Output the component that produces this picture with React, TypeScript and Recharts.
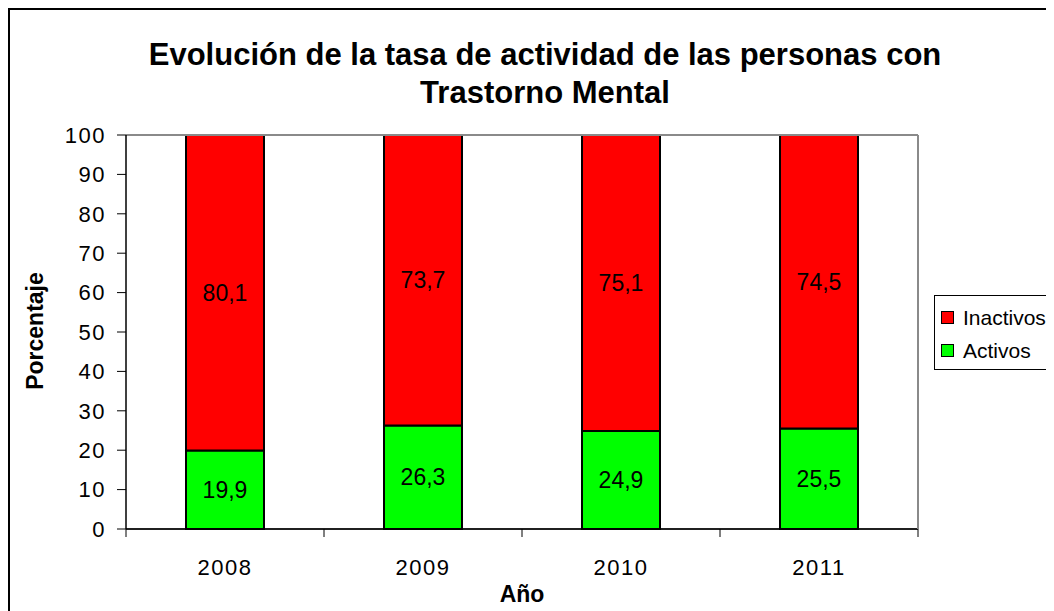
import { Bar, BarChart, CartesianGrid, LabelList, Legend, ReferenceLine, XAxis, YAxis } from "recharts";

const years = ["2008", "2009", "2010", "2011"];
const activos = [19.9, 26.3, 24.9, 25.5];
const inactivos = [80.1, 73.7, 75.1, 74.5];
const yTicks = [0, 10, 20, 30, 40, 50, 60, 70, 80, 90, 100];

const data = years.map((year, i) => ({
  year,
  Activos: activos[i],
  Inactivos: inactivos[i],
}));

const FONT = '"Liberation Sans", Arial, sans-serif';
const W = 1060;
const H = 620;

const fmt = (v: any) => String(v).replace(".", ",");

function YearTick(props: any) {
  const { x, y, payload, index, visibleTicksCount } = props;
  const half = payload?.offset || 99.1;
  const last = index === (visibleTicksCount ?? years.length) - 1;
  return (
    <g>
      <line x1={x - half} x2={x - half} y1={y} y2={y + 8} stroke="#000" strokeWidth={1} />
      {last && <line x1={x + half} x2={x + half} y1={y} y2={y + 8} stroke="#000" strokeWidth={1} />}
      <text x={x} y={y + 38} textAnchor="middle" dominantBaseline="central" fontSize={22} letterSpacing={1.5} fill="#000" fontFamily={FONT}>
        {payload.value}
      </text>
    </g>
  );
}

function LegendBox() {
  const items = [
    { name: "Inactivos", color: "#ff0000" },
    { name: "Activos", color: "#00ff00" },
  ];
  return (
    <div style={{ border: "1px solid #000", width: 140, height: 75, boxSizing: "border-box", padding: "5px 0 0 6px", background: "#fff" }}>
      {items.map((it) => (
        <div key={it.name} style={{ display: "flex", alignItems: "center", height: 33, fontSize: 21, fontFamily: FONT, color: "#000" }}>
          <span style={{ width: 11, height: 11, background: it.color, border: "1.5px solid #000", marginRight: 9, display: "inline-block" }} />
          {it.name}
        </div>
      ))}
    </div>
  );
}

export default function App() {
  return (
    <div style={{ position: "relative", width: W + 4, height: H + 4, border: "2px solid #000", boxSizing: "border-box", fontFamily: FONT, background: "#fff" }}>
      <div style={{ position: "absolute", left: 535, top: 26, transform: "translateX(-50%)", textAlign: "center", fontWeight: "bold", fontSize: 31, lineHeight: "38px", whiteSpace: "nowrap", color: "#000" }}>
        Evolución de la tasa de actividad de las personas con
        <br />
        Trastorno Mental
      </div>
      <div style={{ position: "absolute", left: 25, top: 321, transform: "translate(-50%, -50%) rotate(-90deg)", fontWeight: "bold", fontSize: 23, whiteSpace: "nowrap", color: "#000" }}>
        Porcentaje
      </div>
      <div style={{ position: "absolute", left: 512, top: 584, transform: "translate(-50%, -50%)", fontWeight: "bold", fontSize: 23, whiteSpace: "nowrap", color: "#000" }}>
        Año
      </div>
      <BarChart
        width={W - 4}
        height={H - 4}
        data={data}
        margin={{ top: 125, right: 151 - 4, bottom: 41 - 4, left: 56 }}
        style={{ position: "absolute", left: 0, top: 0 }}
      >
        <CartesianGrid vertical={false} stroke="#000" strokeWidth={1} />
        <XAxis
          dataKey="year"
          axisLine={{ stroke: "#000", strokeWidth: 1.5 }}
          tickLine={false}
          tickSize={0}
          tickMargin={0}
          tick={<YearTick />}
          height={60}
        />
        <YAxis
          yAxisId="left"
          type="number"
          domain={[0, 100]}
          ticks={yTicks}
          interval={0}
          width={60}
          axisLine={{ stroke: "#000", strokeWidth: 1.5 }}
          tickLine={{ stroke: "#000" }}
          tickSize={9}
          tickMargin={11}
          tick={{ fontSize: 22, letterSpacing: 1.5, fill: "#000", fontFamily: FONT }}
        />
        <YAxis
          yAxisId="right"
          orientation="right"
          domain={[0, 100]}
          width={1}
          tick={false}
          tickLine={false}
          axisLine={{ stroke: "#8a8a8a", strokeWidth: 2 }}
        />
        <ReferenceLine yAxisId="left" y={100} stroke="#8a8a8a" strokeWidth={2} />
        <Legend
          layout="horizontal"
          align="center"
          verticalAlign="middle"
          content={<LegendBox />}
          wrapperStyle={{ position: "absolute", left: 924, top: 285, width: 140 }}
        />
        <Bar yAxisId="left" dataKey="Activos" stackId="a" fill="#00ff00" stroke="#000" strokeWidth={2} barSize={78} isAnimationActive={false}>
          <LabelList dataKey="Activos" position="center" formatter={fmt} fill="#000" fontSize={23} fontFamily={FONT} />
        </Bar>
        <Bar yAxisId="left" dataKey="Inactivos" stackId="a" fill="#ff0000" stroke="#000" strokeWidth={2} barSize={78} isAnimationActive={false}>
          <LabelList dataKey="Inactivos" position="center" formatter={fmt} fill="#000" fontSize={23} fontFamily={FONT} />
        </Bar>
      </BarChart>
    </div>
  );
}
